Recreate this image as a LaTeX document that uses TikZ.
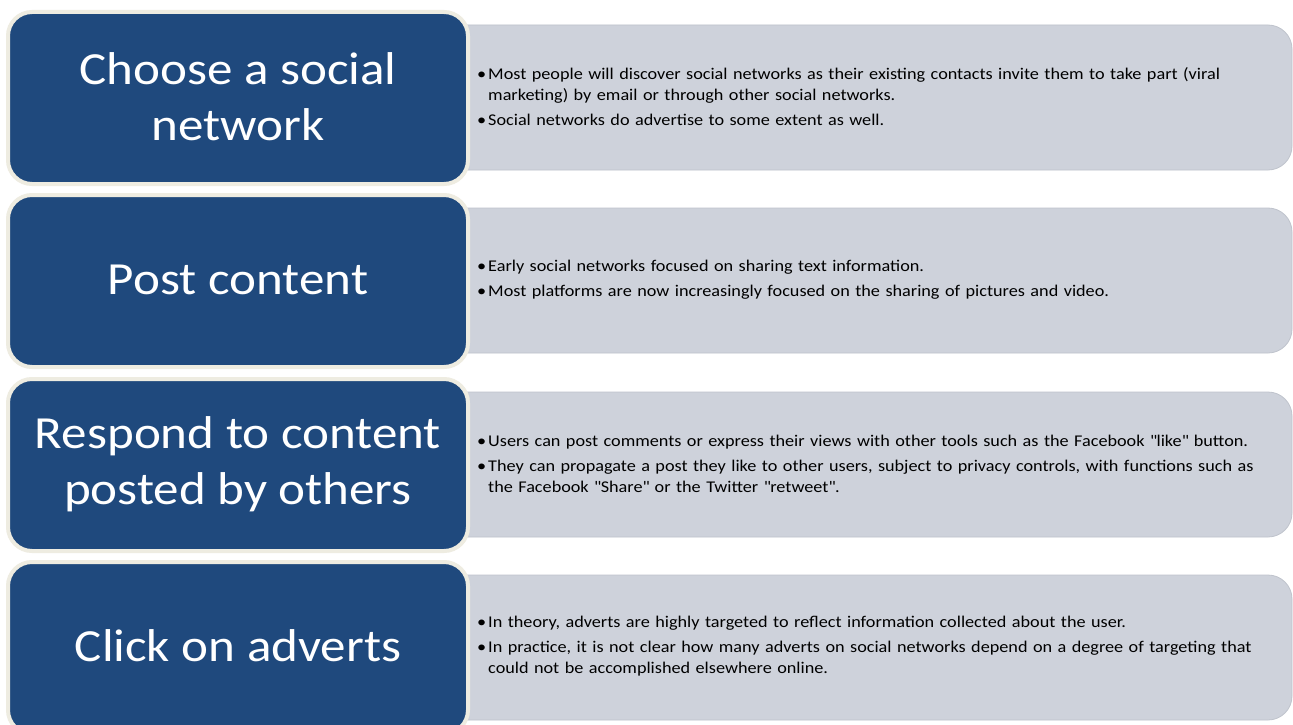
\documentclass[tikz,border=0pt]{standalone}
\usepackage{fontspec}
\setmainfont{Carlito}[FakeStretch=1.11]
\definecolor{stepblue}{HTML}{1F497D}
\definecolor{cream}{HTML}{EEECE1}
\definecolor{panelgray}{HTML}{CED2DB}
\definecolor{paneledge}{HTML}{BFC3CC}
\newcommand{\bitem}[1]{\hangindent=11pt\hangafter=1\noindent\makebox[11pt][l]{\textbullet}#1\par}
\tikzset{
  stepbox/.style={draw=cream, line width=4pt, fill=stepblue, rounded corners=24pt},
  panel/.style={fill=panelgray, draw=paneledge, line width=0.8pt, rounded corners=24pt},
  steptext/.style={text=white, align=center, font=\fontsize{46}{56}\selectfont, inner sep=0pt},
  paneltext/.style={anchor=west, text width=778pt, align=left, inner sep=0pt,
     font=\fontsize{16.4}{21}\selectfont, text=black}
}
\begin{document}
\begin{tikzpicture}[x=1pt,y=-1pt]
\useasboundingbox[fill=white] (0,0) rectangle (1293,725);
\foreach \t [count=\i] in {10,193,377,560}{
  \path[panel] (440,\t+15) rectangle (1292,\t+160);
  \path[stepbox] (8,\t+2) rectangle (468,\t+174);
}
\node[steptext] (s1) at (238,97) {Choose a social\\network};
\node[steptext] (s2) at (238,280) {Post content};
\node[steptext] (s3) at (238,464) {Respond to content\\posted by others};
\node[steptext] (s4) at (238,646) {Click on adverts};
\node[paneltext] (p1) at (477,97) {\setlength{\parskip}{4pt}\hyphenpenalty=10000\exhyphenpenalty=10000%
\bitem{Most people will discover social networks as their existing contacts invite them to take part (viral marketing) by email or through other social networks.}
\bitem{Social networks do advertise to some extent as well.}};
\node[paneltext] (p2) at (477,280) {\setlength{\parskip}{4pt}\hyphenpenalty=10000\exhyphenpenalty=10000%
\bitem{Early social networks focused on sharing text information.}
\bitem{Most platforms are now increasingly focused on the sharing of pictures and video.}};
\node[paneltext] (p3) at (477,464) {\setlength{\parskip}{4pt}\hyphenpenalty=10000\exhyphenpenalty=10000%
\bitem{Users can post comments or express their views with other tools such as the Facebook \textquotedbl like\textquotedbl{} button.}
\bitem{They can propagate a post they like to other users, subject to privacy controls, with functions such as the Facebook \textquotedbl Share\textquotedbl{} or the Twitter \textquotedbl retweet\textquotedbl.}};
\node[paneltext] (p4) at (477,646) {\setlength{\parskip}{4pt}\hyphenpenalty=10000\exhyphenpenalty=10000%
\bitem{In theory, adverts are highly targeted to reflect information collected about the user.}
\bitem{In practice, it is not clear how many adverts on social networks depend on a degree of targeting that could not be accomplished elsewhere online.}};
\end{tikzpicture}
\end{document}
